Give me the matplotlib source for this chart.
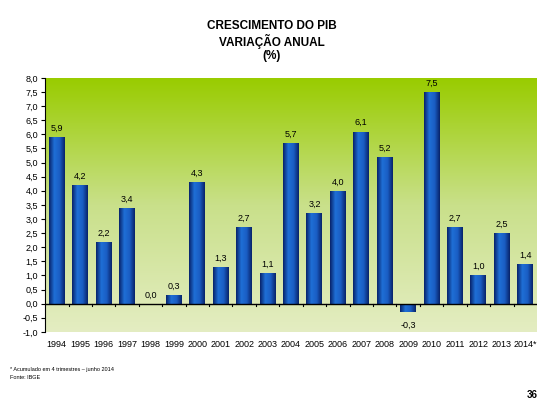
import numpy as np
import matplotlib
matplotlib.use('Agg')
import matplotlib.pyplot as plt
from matplotlib.colors import LinearSegmentedColormap

plt.rcParams['font.family'] = ['Liberation Sans', 'DejaVu Sans']

anos = ['1994', '1995', '1996', '1997', '1998', '1999', '2000', '2001', '2002', '2003', '2004',
        '2005', '2006', '2007', '2008', '2009', '2010', '2011', '2012', '2013', '2014*']
pib = [5.9, 4.2, 2.2, 3.4, 0.0, 0.3, 4.3, 1.3, 2.7, 1.1, 5.7,
       3.2, 4.0, 6.1, 5.2, -0.3, 7.5, 2.7, 1.0, 2.5, 1.4]
yticks = np.arange(-1.0, 8.01, 0.5)


def virgula(v):
    return f"{v:.1f}".replace('.', ',')


fig = plt.figure(figsize=(5.57, 4.19), dpi=100)
ax = fig.add_axes([0.081, 0.208, 0.883, 0.606])

x = np.arange(len(anos))
ax.set_xlim(-0.5, len(anos) - 0.5)
ax.set_ylim(-1.0, 8.0)

# fundo em degrade verde
fundo = LinearSegmentedColormap.from_list('fundo', ['#e4edc2', '#c9e08a', '#99cc00'])
grad = np.linspace(0, 1, 256).reshape(-1, 1)
ax.imshow(grad, cmap=fundo, aspect='auto', origin='lower',
          extent=[-0.5, len(anos) - 0.5, -1.0, 8.0], zorder=0)

barras = ax.bar(x, pib, width=0.68, color='#1a5bbf', zorder=2)

# degrade horizontal nas barras
azul = LinearSegmentedColormap.from_list('azul', ['#08236a', '#1f6fd6', '#1a5ec4', '#08236a'])
hgrad = np.linspace(0, 1, 64).reshape(1, -1)
for b in barras:
    bx, by = b.get_x(), b.get_y()
    w, h = b.get_width(), b.get_height()
    if h == 0:
        continue
    im = ax.imshow(hgrad, cmap=azul, aspect='auto',
                   extent=[bx, bx + w, min(by, by + h), max(by, by + h)], zorder=3)
    im.set_clip_path(b)

for xi, v in zip(x, pib):
    if v < 0:
        ax.text(xi, v - 0.3, virgula(v), ha='center', va='top', fontsize=6.5, zorder=4)
    else:
        ax.text(xi, v + 0.15, virgula(v), ha='center', va='bottom', fontsize=6.5, zorder=4)

ax.axhline(0, color='black', lw=1.0, zorder=4)
ax.set_yticks(yticks)
ax.set_yticklabels([virgula(t) for t in yticks], fontsize=6.5)
ax.set_xticks(x)
ax.set_xticklabels(anos, fontsize=6.5)
ax.tick_params(axis='x', length=0, pad=6)
ax.tick_params(axis='y', length=3, width=0.8, pad=2)

for s in ['top', 'right', 'bottom']:
    ax.spines[s].set_visible(False)
ax.spines['left'].set_linewidth(0.8)

# marcas no eixo zero, entre as barras
for t in np.arange(0.5, len(anos) - 0.5):
    ax.plot([t, t], [0, -0.1], color='black', lw=0.8, zorder=4, clip_on=False)

fig.text(0.488, 0.937, 'CRESCIMENTO DO PIB', ha='center', va='center', fontsize=8.5, fontweight='bold')
fig.text(0.488, 0.902, 'VARIAÇÃO ANUAL', ha='center', va='center', fontsize=8.5, fontweight='bold')
fig.text(0.488, 0.866, '(%)', ha='center', va='center', fontsize=8.5, fontweight='bold')

fig.text(0.018, 0.117, '* Acumulado em 4 trimestres – junho 2014', fontsize=4, va='center')
fig.text(0.018, 0.098, 'Fonte: IBGE', fontsize=4, va='center')
fig.text(0.965, 0.057, '36', fontsize=7, fontweight='bold', ha='right', va='center')

fig.savefig('out.png', dpi=100)
